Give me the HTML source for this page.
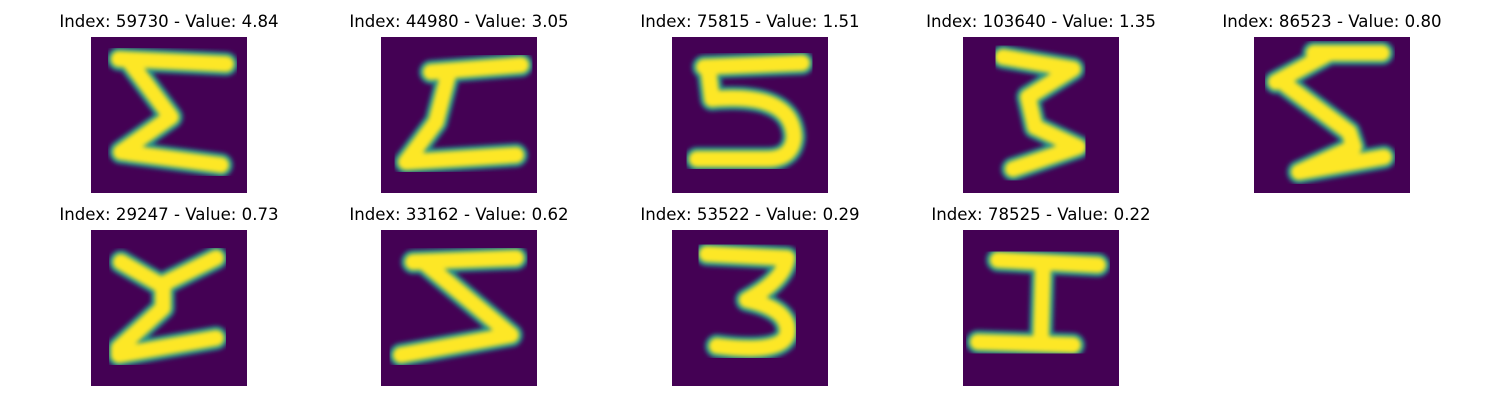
<!DOCTYPE html>
<html><head><meta charset="utf-8"><style>
body{margin:0;background:#fff;}
svg{display:block}
text{font-family:"DejaVu Sans","Liberation Sans",sans-serif;font-size:16.6px;fill:#000}
</style></head><body>
<svg id="fig" width="1500" height="400"></svg>
<script>
const titles=["Index: 59730 - Value: 4.84","Index: 44980 - Value: 3.05","Index: 75815 - Value: 1.51","Index: 103640 - Value: 1.35","Index: 86523 - Value: 0.80","Index: 29247 - Value: 0.73","Index: 33162 - Value: 0.62","Index: 53522 - Value: 0.29","Index: 78525 - Value: 0.22"];
const strokes=[
"M28,22 L135,27 M38,24 L80,80 L30,115 L130,128",
"M50,35 L140,28 M68,35 L55,85 L25,125 L135,118",
"M32,30 L130,26 M36,30 L40,62 Q120,55 122,100 Q120,122 95,122 L25,122",
"M40,20 L110,32 L65,60 L72,90 L115,110 L50,132",
"M60,16 L128,16 M72,18 L22,45 M32,48 L95,95 L100,110 L45,135 L130,120",
"M30,32 L70,55 L125,28 M72,55 L72,78 L28,118 L28,125 L125,108",
"M32,32 L135,28 M45,34 L130,105 L20,125",
"M35,24 L115,28 Q112,50 75,70 Q120,80 115,105 Q108,124 45,116",
"M35,30 L135,35 M80,35 L78,108 M15,112 L110,115"];
const colX=[91,381,672,963,1254], rowY=[37,230], S=156;
const svg=document.getElementById('fig'), NS="http://www.w3.org/2000/svg";
svg.innerHTML='<defs><filter id="b"><feGaussianBlur stdDeviation="2"/></filter></defs>';
titles.forEach((t,i)=>{
  const x=colX[i%5], y=rowY[Math.floor(i/5)];
  const g=document.createElementNS(NS,'g');
  
  
  const tx=document.createElementNS(NS,'text');
  
  
  tx.setAttribute('x',x+S/2);tx.setAttribute('y',y-10);tx.setAttribute('text-anchor','middle');
  tx.textContent=t;g.appendChild(tx);
  const r=document.createElementNS(NS,'rect');
  
  
  r.setAttribute('x',x);r.setAttribute('y',y);r.setAttribute('width',S);r.setAttribute('height',S);r.setAttribute('fill','#440154');
  g.appendChild(r);
  [['#21918c',24],['#fde725',16]].forEach(([c,w])=>{
    const p=document.createElementNS(NS,'path');
    
    
    p.setAttribute('d',strokes[i]);p.setAttribute('transform',`translate(${x},${y})`);
    p.setAttribute('fill','none');p.setAttribute('stroke',c);p.setAttribute('stroke-width',w);
    p.setAttribute('stroke-linecap','round');p.setAttribute('stroke-linejoin','round');
    p.setAttribute('filter','url(#b)');
    g.appendChild(p);
  });
  svg.appendChild(g);
});
</script>
</body></html>
